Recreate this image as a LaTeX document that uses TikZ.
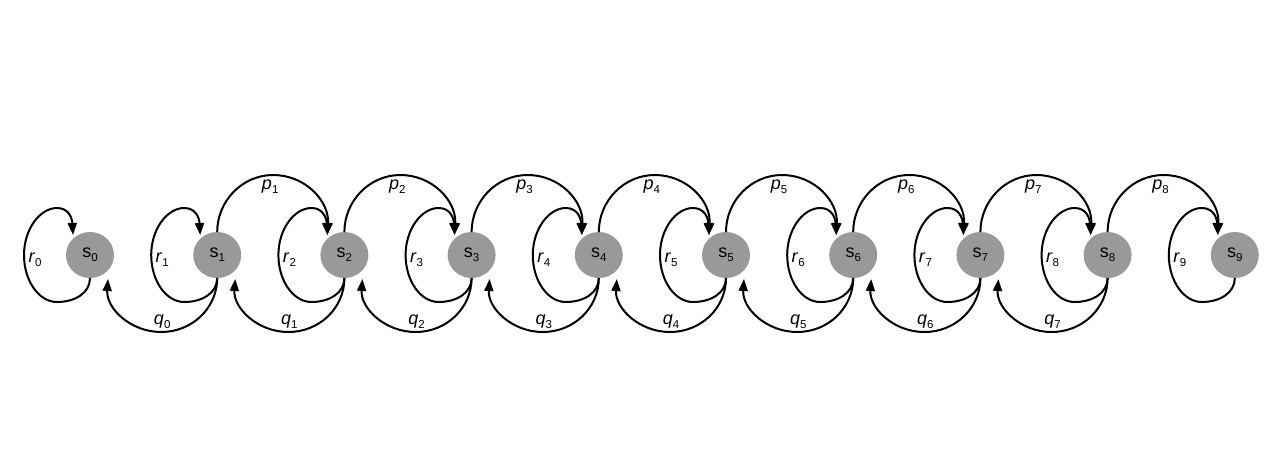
\documentclass[tikz,border=0pt]{standalone}
\usepackage{fontspec}
\setmainfont{Liberation Sans}
\usetikzlibrary{shapes.geometric,arrows.meta,calc}
\definecolor{nodegray}{RGB}{153,153,153}
\newcommand{\sublab}[2]{#1\raisebox{-0.45ex}{\fontsize{11.5}{11.5}\selectfont #2}}
\begin{document}
\begin{tikzpicture}[x=1pt,y=1pt,
  state/.style={ellipse, fill=nodegray, minimum width=48pt, minimum height=46pt, inner sep=0pt, font=\fontsize{18}{18}\selectfont},
  edge/.style={line width=2pt, -{Triangle[length=12pt,width=9pt]}},
  elab/.style={font=\fontsize{18}{18}\selectfont, inner sep=0pt}]
\useasboundingbox (0,0) rectangle (1280,-451);
\foreach \i in {0,...,9} {
  \node[state] (s\i) at (90+127.2*\i,-255) {\sublab{s}{\i}};
}
% self loops
\foreach \i in {0,...,9} {
  \draw[edge] ($(s\i.center)+(0,-23)$)
    .. controls ($(s\i.center)+(0,-38)$) and ($(s\i.center)+(-15,-47)$) .. ($(s\i.center)+(-33,-47)$)
    .. controls ($(s\i.center)+(-51,-47)$) and ($(s\i.center)+(-66,-26)$) .. ($(s\i.center)+(-66,0)$)
    .. controls ($(s\i.center)+(-66,26)$) and ($(s\i.center)+(-50,47)$) .. ($(s\i.center)+(-33,47)$)
    .. controls ($(s\i.center)+(-22,47)$) and ($(s\i.center)+(-18,38)$) .. ($(s\i.center)+(-17,20)$);
  \node[elab] (r\i) at ($(s\i.center)+(-55,-5)$) {\sublab{\textit{r}}{\i}};
}
% forward arcs p
\foreach \i/\j in {1/2,2/3,3/4,4/5,5/6,6/7,7/8,8/9} {
  \draw[edge] ($(s\i.center)+(0,23)$)
    .. controls ($(s\i.center)+(0,54)$) and ($(s\i.center)+(25,80)$) .. ($(s\i.center)+(56,80)$)
    .. controls ($(s\i.center)+(88,80)$) and ($(s\j.center)+(-15,54)$) .. ($(s\j.center)+(-17,20)$);
  \node[elab] (p\i) at ($(s\i.center)+(53,68)$) {\sublab{\textit{p}}{\i}};
}
% backward arcs q
\foreach \i/\j in {0/1,1/2,2/3,3/4,4/5,5/6,6/7,7/8} {
  \draw[edge] ($(s\j.center)+(0,-23)$)
    .. controls ($(s\j.center)+(0,-53)$) and ($(s\j.center)+(-25,-77)$) .. ($(s\j.center)+(-56,-77)$)
    .. controls ($(s\j.center)+(-87,-77)$) and ($(s\i.center)+(16,-53)$) .. ($(s\i.center)+(18,-24)$);
  \node[elab] (q\i) at ($(s\j.center)+(-55,-67)$) {\sublab{\textit{q}}{\i}};
}
\end{tikzpicture}
\end{document}
